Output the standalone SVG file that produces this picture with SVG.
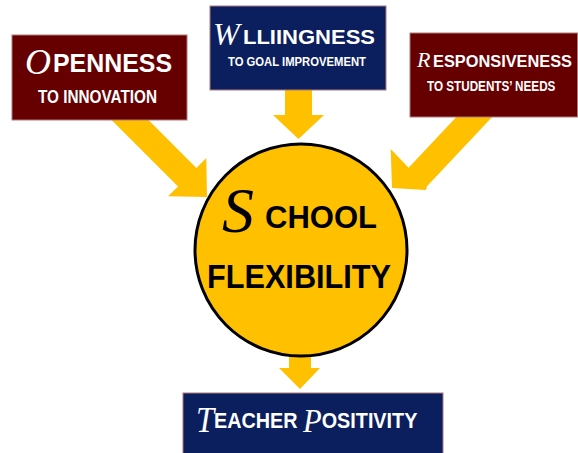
<svg xmlns="http://www.w3.org/2000/svg" width="578" height="453" viewBox="0 0 578 453">
<style>
.maroon{fill:#660000;stroke:#b07878;stroke-width:1}
.navy{fill:#0b1f5e;stroke:#b07878;stroke-width:1}
.arrow{fill:#ffc000}
.t{font-family:"Liberation Sans",Arial,sans-serif;font-weight:bold;fill:#ffffff}
.s{font-family:"Liberation Serif","DejaVu Serif",serif;font-style:italic;font-weight:normal;fill:#ffffff}
.tk{font-family:"Liberation Sans",Arial,sans-serif;font-weight:bold;fill:#000000}
</style>
<rect width="578" height="453" fill="#ffffff"/>
<g id="connectors">
<polygon class="arrow" points="100.8,109.2 119.2,90.8 196.4,168 206.3,158.1 207,197 168.1,196.3 178,186.4"/>
<polygon class="arrow" points="480.8,91 499.2,109.4 427,186.2 426,190 392,188 390.7,149.1 408.6,167.8"/>
<polygon class="arrow" points="285,85 312,85 312,115 324,115 298.5,139 273,115 285,115"/>
<polygon class="arrow" points="289,350 311,350 311,368 320,368 300,389 279,368 289,368"/>
</g>
<g id="school-flexibility">
<circle cx="301" cy="250" r="106" fill="#ffc000" stroke="#000000" stroke-width="3"/>
<text x="222" y="232" font-family="Liberation Serif,DejaVu Serif,serif" font-style="italic" font-size="64" fill="#000000">S</text>
<text class="tk" x="265" y="228" font-size="32" textLength="112" lengthAdjust="spacingAndGlyphs">CHOOL</text>
<text class="tk" x="207" y="288" font-size="34" textLength="184" lengthAdjust="spacingAndGlyphs">FLEXIBILITY</text>
</g>
<g id="openness">
<rect class="maroon" x="12" y="35" width="175" height="85"/>
<text class="s" x="25" y="74" font-size="36">O</text>
<text class="t" x="53" y="72" font-size="26" textLength="119" lengthAdjust="spacingAndGlyphs">PENNESS</text>
<text class="t" x="38" y="103" font-size="19" textLength="119" lengthAdjust="spacingAndGlyphs">TO INNOVATION</text>
</g>
<g id="willingness">
<rect class="navy" x="210" y="6" width="176" height="84"/>
<text class="s" x="213" y="45" font-size="32">W</text>
<text class="t" x="243" y="44" font-size="21" textLength="132" lengthAdjust="spacingAndGlyphs">LLIINGNESS</text>
<text class="t" x="228" y="66" font-size="12" textLength="138" lengthAdjust="spacingAndGlyphs">TO GOAL IMPROVEMENT</text>
</g>
<g id="responsiveness">
<rect class="maroon" x="410" y="33" width="167.5" height="84"/>
<text class="s" x="417" y="67" font-size="22">R</text>
<text class="t" x="433" y="67" font-size="16" textLength="139" lengthAdjust="spacingAndGlyphs">ESPONSIVENESS</text>
<text class="t" transform="translate(427,91) scale(0.78,1)" font-size="15">TO STUDENTS’ NEEDS</text>
</g>
<g id="teacher-positivity">
<rect class="navy" x="183" y="393" width="260" height="70"/>
<text class="t" transform="translate(196,428) scale(0.9,1)" font-size="22"><tspan class="s" font-size="36" dy="4">T</tspan><tspan dy="-4">EACHER </tspan><tspan class="s" font-size="34" dy="4">P</tspan><tspan dy="-4">OSITIVITY</tspan></text>
</g>
</svg>
